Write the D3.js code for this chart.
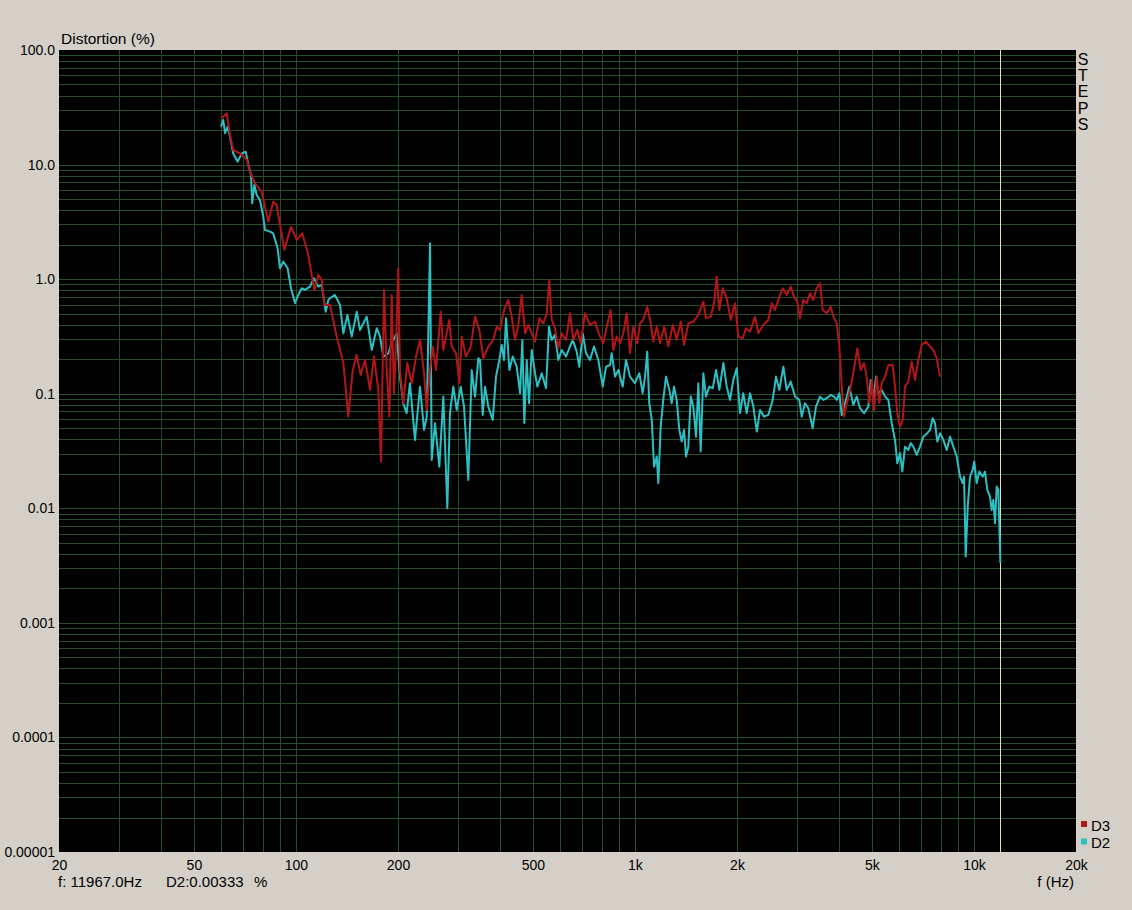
<!DOCTYPE html>
<html><head><meta charset="utf-8">
<script src="https://cdn.jsdelivr.net/npm/d3@7"></script>
<style>
html,body{margin:0;padding:0;background:#d4d0c8;}
svg{display:block;font-family:"Liberation Sans",Arial,sans-serif;}
</style></head>
<body>
<svg id="chart" width="1132" height="910"></svg>
<script>
// ---- data ----
const d3Freq = [60.4,62.5,63.9,65.3,68.4,71.6,73.2,75.7,79.2,82.9,
85.7,87.7,92.4,96.7,100.5,104.4,108.7,113.3,116.4,119.1,
121.2,126,131.9,138,142.7,147.1,151.1,155.2,159.9,165.4,
169.9,175,178.2,181.9,185.3,188.6,191.6,194.6,197.3,200.4,
202.7,207.3,213,219.5,226,232.2,238.7,243.1,248.6,253.2,
258.9,267.3,272.1,277.1,283.4,288,296.6,303.3,308.3,317.4,
327.8,337.5,347.5,357,369.3,382.1,391,399.9,410.9,423.1,
432.9,442.8,452.8,463.4,474,484.7,496,507.3,522.3,536.7,
549.2,558.9,568.1,581,594.2,608,626.1,643.3,657.9,676.1,
691.8,712.3,736.9,762.4,785,806.6,825.5,848.2,863.3,883.6,
903.6,924.1,945.6,967,988.8,1016,1035,1058,1087,1113,
1133,1160,1186,1219,1255,1293,1328,1365,1396,1437,
1487,1538,1591,1621,1673,1711,1743,1774,1815,1865,
1917,1973,2018,2079,2126,2185,2261,2312,2391,2474,
2532,2589,2648,2728,2803,2880,2946,3012,3068,3138,
3210,3284,3358,3436,3515,3580,3678,3780,3848,3938,
4008,4074,4138,4214,4310,4407,4529,4634,4740,4827,
4913,4994,5073,5166,5258,5345,5466,5590,5759,5850,
5942,6052,6164,6261,6403,6552,6700,6853,7013,7221,
7420,7588,7766,7942];
const d3Vals = [25.4,28.0,18.1,13.4,12.5,11.0,8.67,6.87,5.80,3.18,
4.75,4.44,1.80,2.87,2.20,2.51,1.63,0.805,1.09,0.984,
0.595,0.595,0.315,0.185,0.0631,0.161,0.218,0.146,0.197,0.108,
0.211,0.108,0.0256,0.805,0.161,0.0631,0.728,0.101,0.258,1.245,
0.161,0.0826,0.185,0.1235,0.211,0.2947,0.151,0.0722,0.161,0.258,
0.161,0.520,0.241,0.315,0.4406,0.258,0.2257,0.1235,0.315,0.211,
0.258,0.471,0.360,0.204,0.258,0.2947,0.385,0.360,0.538,0.658,
0.471,0.2947,0.398,0.728,0.337,0.398,0.337,0.285,0.456,0.412,
0.504,0.984,0.4406,0.373,0.2495,0.337,0.2947,0.504,0.2947,0.360,
0.276,0.504,0.398,0.4257,0.326,0.276,0.385,0.538,0.241,0.315,
0.276,0.337,0.504,0.2257,0.385,0.276,0.412,0.4406,0.575,0.412,
0.285,0.385,0.276,0.385,0.258,0.398,0.2947,0.4257,0.2666,0.412,
0.4257,0.487,0.636,0.456,0.471,0.616,1.051,0.538,0.833,0.681,
0.4406,0.616,0.315,0.305,0.373,0.348,0.471,0.337,0.398,0.4406,
0.616,0.538,0.658,0.833,0.728,0.860,0.704,0.636,0.456,0.658,
0.616,0.753,0.658,0.833,0.921,0.538,0.504,0.575,0.471,0.412,
0.258,0.1153,0.0631,0.0826,0.108,0.151,0.2495,0.161,0.185,0.141,
0.0826,0.132,0.0722,0.141,0.0826,0.1235,0.141,0.178,0.178,0.1153,
0.0676,0.0516,0.059,0.1153,0.1275,0.1906,0.132,0.197,0.2666,0.285,
0.258,0.241,0.204,0.141];

const d2Freq = [60.1,61.0,61.8,62.9,63.9,65.3,67.3,69.2,71.1,72.4,
73.7,74.3,75.4,76.6,78.3,80.1,81.0,83.9,85.7,88.3,
89.7,91.8,94.5,96.7,99.4,101.6,104,106.3,110,113,
116.4,119.1,122.4,124.6,126,130.3,134.9,138,141.8,146.1,
151.1,154.5,161.7,167.3,173.1,177,181,187.3,191.6,198.2,
202.7,207.3,212.1,216.9,224.5,232.2,238.7,243.1,248.6,251.5,
257.2,264.8,272.1,279.6,284.7,291.2,298,306.2,313.2,322.4,
330,337.5,345.2,349.2,355.6,361.3,369.3,380.5,389.2,398,
404.5,410.9,416.6,426.1,436,448,458.2,465.4,471.7,479.5,
487,496,507.3,515.3,530.9,546.6,557.8,568.1,581,594.2,
608,626.1,640.3,655.3,673.3,685.2,701.4,717.2,736.9,757.2,
779.8,803.4,821.6,844.3,854,873.5,893.2,920.4,941.2,967,
1000,1030,1054,1071,1087,1102,1121,1138.5,1159.6,1172,
1191,1212,1235,1263,1284,1304,1328,1351.7,1374,1395.6,
1414.6,1437,1461,1486.6,1514,1538,1563,1591,1620.6,1657,
1696,1735,1774,1823,1865,1907.6,1950.6,1996.5,2041,2087,
2136,2185,2235,2288,2339,2404,2474,2549,2607,2666,
2740,2803,2880,2966,3054,3104,3174,3246,3344,3420,
3515,3595,3678,3780,3867,3938,4008,4074,4166,4290,
4407,4510,4612,4740,4880,4960,5049,5143,5223,5345,
5466,5590,5720,5850,5942,6052,6147,6261,6403,6507,
6624,6778,6932,7089,7284,7420,7556,7676,7797,7942,
8122,8311,8500,8692,8895,9097,9265,9349,9456,9586,
9737,9916,10023,10188,10370,10612,10780,10950,11154,11283,
11406,11538,11672,11801,11967];
const d2Vals = [21.4,24.5,18.8,21.4,17.5,12.5,10.6,12.5,12.96,9.92,
8.12,4.60,6.64,5.43,4.91,3.51,2.69,2.60,2.51,1.86,
1.245,1.42,1.245,0.833,0.616,0.728,0.833,0.805,0.860,1.018,
0.860,0.890,0.520,0.658,0.681,0.728,0.595,0.337,0.487,0.315,
0.520,0.360,0.471,0.241,0.373,0.315,0.211,0.2257,0.276,0.337,
0.141,0.0826,0.0676,0.1235,0.0395,0.1153,0.0483,0.0631,2.06,0.0264,
0.0553,0.0231,0.0944,0.0100,0.0676,0.1153,0.0722,0.1153,0.0772,0.0177,
0.161,0.0944,0.204,0.197,0.0653,0.1153,0.0772,0.059,0.141,0.197,
0.2666,0.197,0.456,0.161,0.211,0.172,0.101,0.2947,0.0553,0.197,
0.0826,0.241,0.151,0.1153,0.151,0.1117,0.385,0.2947,0.326,0.197,
0.241,0.211,0.2495,0.2947,0.233,0.172,0.337,0.2257,0.197,0.258,
0.197,0.1153,0.172,0.178,0.2257,0.141,0.161,0.1153,0.197,0.141,
0.1235,0.151,0.101,0.141,0.233,0.0826,0.059,0.0231,0.0283,0.0166,
0.0516,0.0883,0.141,0.108,0.0826,0.1153,0.0883,0.0483,0.0382,0.0483,
0.0283,0.0345,0.0944,0.0772,0.0422,0.1235,0.0313,0.151,0.0944,0.1153,
0.1117,0.161,0.108,0.185,0.1153,0.0883,0.132,0.167,0.0676,0.101,
0.0676,0.101,0.0772,0.0467,0.0722,0.0631,0.0653,0.0883,0.141,0.108,
0.172,0.108,0.1275,0.0944,0.0883,0.0631,0.0826,0.0747,0.050,0.0772,
0.0944,0.0883,0.0913,0.0976,0.0944,0.0883,0.101,0.0653,0.0826,0.1153,
0.0799,0.0944,0.0747,0.0676,0.0772,0.132,0.0883,0.141,0.101,0.108,
0.0944,0.0883,0.0553,0.0395,0.0247,0.0303,0.0209,0.0345,0.0323,0.037,
0.0345,0.0292,0.0345,0.0422,0.0452,0.0483,0.0611,0.0553,0.0382,0.0452,
0.0395,0.0323,0.0422,0.0345,0.0283,0.0189,0.0166,0.0189,0.00379,0.01035,
0.0189,0.0216,0.0256,0.0166,0.0209,0.0189,0.0209,0.01447,0.01265,0.00968,
0.01184,0.00741,0.01547,0.01447,0.00333];

const xTickVals = [20,50,100,200,500,1000,2000,5000,10000,20000];
const xTickLabels = ["20","50","100","200","500","1k","2k","5k","10k","20k"];
const yTickVals = [100,10,1,0.1,0.01,0.001,0.0001,0.00001];
const yTickLabels = ["100.0","10.0","1.0","0.1","0.01","0.001","0.0001","0.00001"];
const seriesNames = ["D3","D2"];
const cursorFreq = 11967.0;
const cursorVal = 0.00333;

// ---- layout ----
const L = 59, R = 1076, T = 50, B = 852;
const svg = d3.select("#chart");
const x = d3.scaleLog().domain([20,20000]).range([L,R]);
const y = d3.scaleLog().domain([0.00001,100]).range([B,T]);
const RED = "#b41616", CYAN = "#2cbfc3", GRID = "#254c2b";

svg.append("rect").attr("width",1132).attr("height",910).attr("fill","#d4d0c8");
svg.append("rect").attr("x",L).attr("y",T).attr("width",R-L).attr("height",B-T).attr("fill","#000");

// grid lines
const vGrid = [];
for (let e=1;e<=4;e++) for (let m=1;m<=9;m++){ const v=m*Math.pow(10,e); if(v>20 && v<20000) vGrid.push(v); }
const hGrid = [];
for (let e=-5;e<=1;e++) for (let m=1;m<=9;m++){ const v=+(m*Math.pow(10,e)).toPrecision(3); if(v>0.00001 && v<100) hGrid.push(v); }
const g = svg.append("g").attr("shape-rendering","crispEdges");
g.selectAll("line.v").data(vGrid).join("line").attr("class","v")
  .attr("x1",d=>Math.round(x(d))+0.5).attr("x2",d=>Math.round(x(d))+0.5).attr("y1",T).attr("y2",B)
  .attr("stroke",GRID).attr("stroke-width",1);
g.selectAll("line.h").data(hGrid).join("line").attr("class","h")
  .attr("y1",d=>Math.round(y(d))+0.5).attr("y2",d=>Math.round(y(d))+0.5).attr("x1",L).attr("x2",R)
  .attr("stroke",GRID).attr("stroke-width",1);

// cursor line
svg.append("line").attr("x1",Math.round(x(cursorFreq))+0.5).attr("x2",Math.round(x(cursorFreq))+0.5)
  .attr("y1",T).attr("y2",B).attr("stroke","#e2e2b8").attr("stroke-width",1).attr("shape-rendering","crispEdges");

// data lines
svg.append("clipPath").attr("id","clip").append("rect").attr("x",L).attr("y",T).attr("width",R-L).attr("height",B-T);
const line = d3.line().x(d=>x(d[0])).y(d=>y(d[1]));
const d2Data = d3.zip(d2Freq,d2Vals), d3Data = d3.zip(d3Freq,d3Vals);
const lg = svg.append("g").attr("clip-path","url(#clip)");
lg.append("path").datum(d2Data).attr("d",line).attr("fill","none").attr("stroke",CYAN).attr("stroke-width",2).attr("stroke-linejoin","round");
lg.append("path").datum(d3Data).attr("d",line).attr("fill","none").attr("stroke",RED).attr("stroke-width",2).attr("stroke-linejoin","round");

// axes
const fs = "14px";
const yAxis = d3.axisLeft(y).tickValues(yTickVals).tickFormat((d,i)=>yTickLabels[i]).tickSize(0).tickPadding(4);
const ya = svg.append("g").attr("transform",`translate(${L},0)`).call(yAxis);
ya.select(".domain").remove();
ya.selectAll("text").attr("font-size",fs).attr("fill","#000").attr("font-family","Liberation Sans, Arial, sans-serif");

const xAxis = d3.axisBottom(x).tickValues(xTickVals).tickFormat((d,i)=>xTickLabels[i]).tickSize(0).tickPadding(8);
const xa = svg.append("g").attr("transform",`translate(0,${B})`).call(xAxis);
xa.select(".domain").remove();
xa.selectAll("text").attr("font-size",fs).attr("fill","#000").attr("font-family","Liberation Sans, Arial, sans-serif");

// titles
svg.append("text").attr("x",61).attr("y",44).attr("font-size","15.5px").text("Distortion (%)");
svg.append("text").attr("x",1074).attr("y",887).attr("text-anchor","end").attr("font-size","15px").text("f (Hz)");
svg.append("text").attr("x",58).attr("y",887).attr("font-size","15px").text("f: " + cursorFreq.toFixed(1) + "Hz");
svg.append("text").attr("x",166).attr("y",887).attr("font-size","15px").text("D2:" + cursorVal.toFixed(5));
svg.append("text").attr("x",254).attr("y",887).attr("font-size","15px").text("%");

// STEPS
const steps = "STEPS".split("");
svg.selectAll("text.steps").data(steps).join("text").attr("class","steps")
  .attr("x",1083).attr("y",(d,i)=>65+i*16.2).attr("text-anchor","middle").attr("font-size","16px").text(d=>d);

// legend
const legColors = [RED, CYAN];
seriesNames.forEach((n,i)=>{
  svg.append("rect").attr("x",1081).attr("y",821+i*17.5).attr("width",6).attr("height",6).attr("fill",legColors[i]);
  svg.append("text").attr("x",1091).attr("y",831+i*17).attr("font-size","15px").text(n);
});
</script>
</body></html>
